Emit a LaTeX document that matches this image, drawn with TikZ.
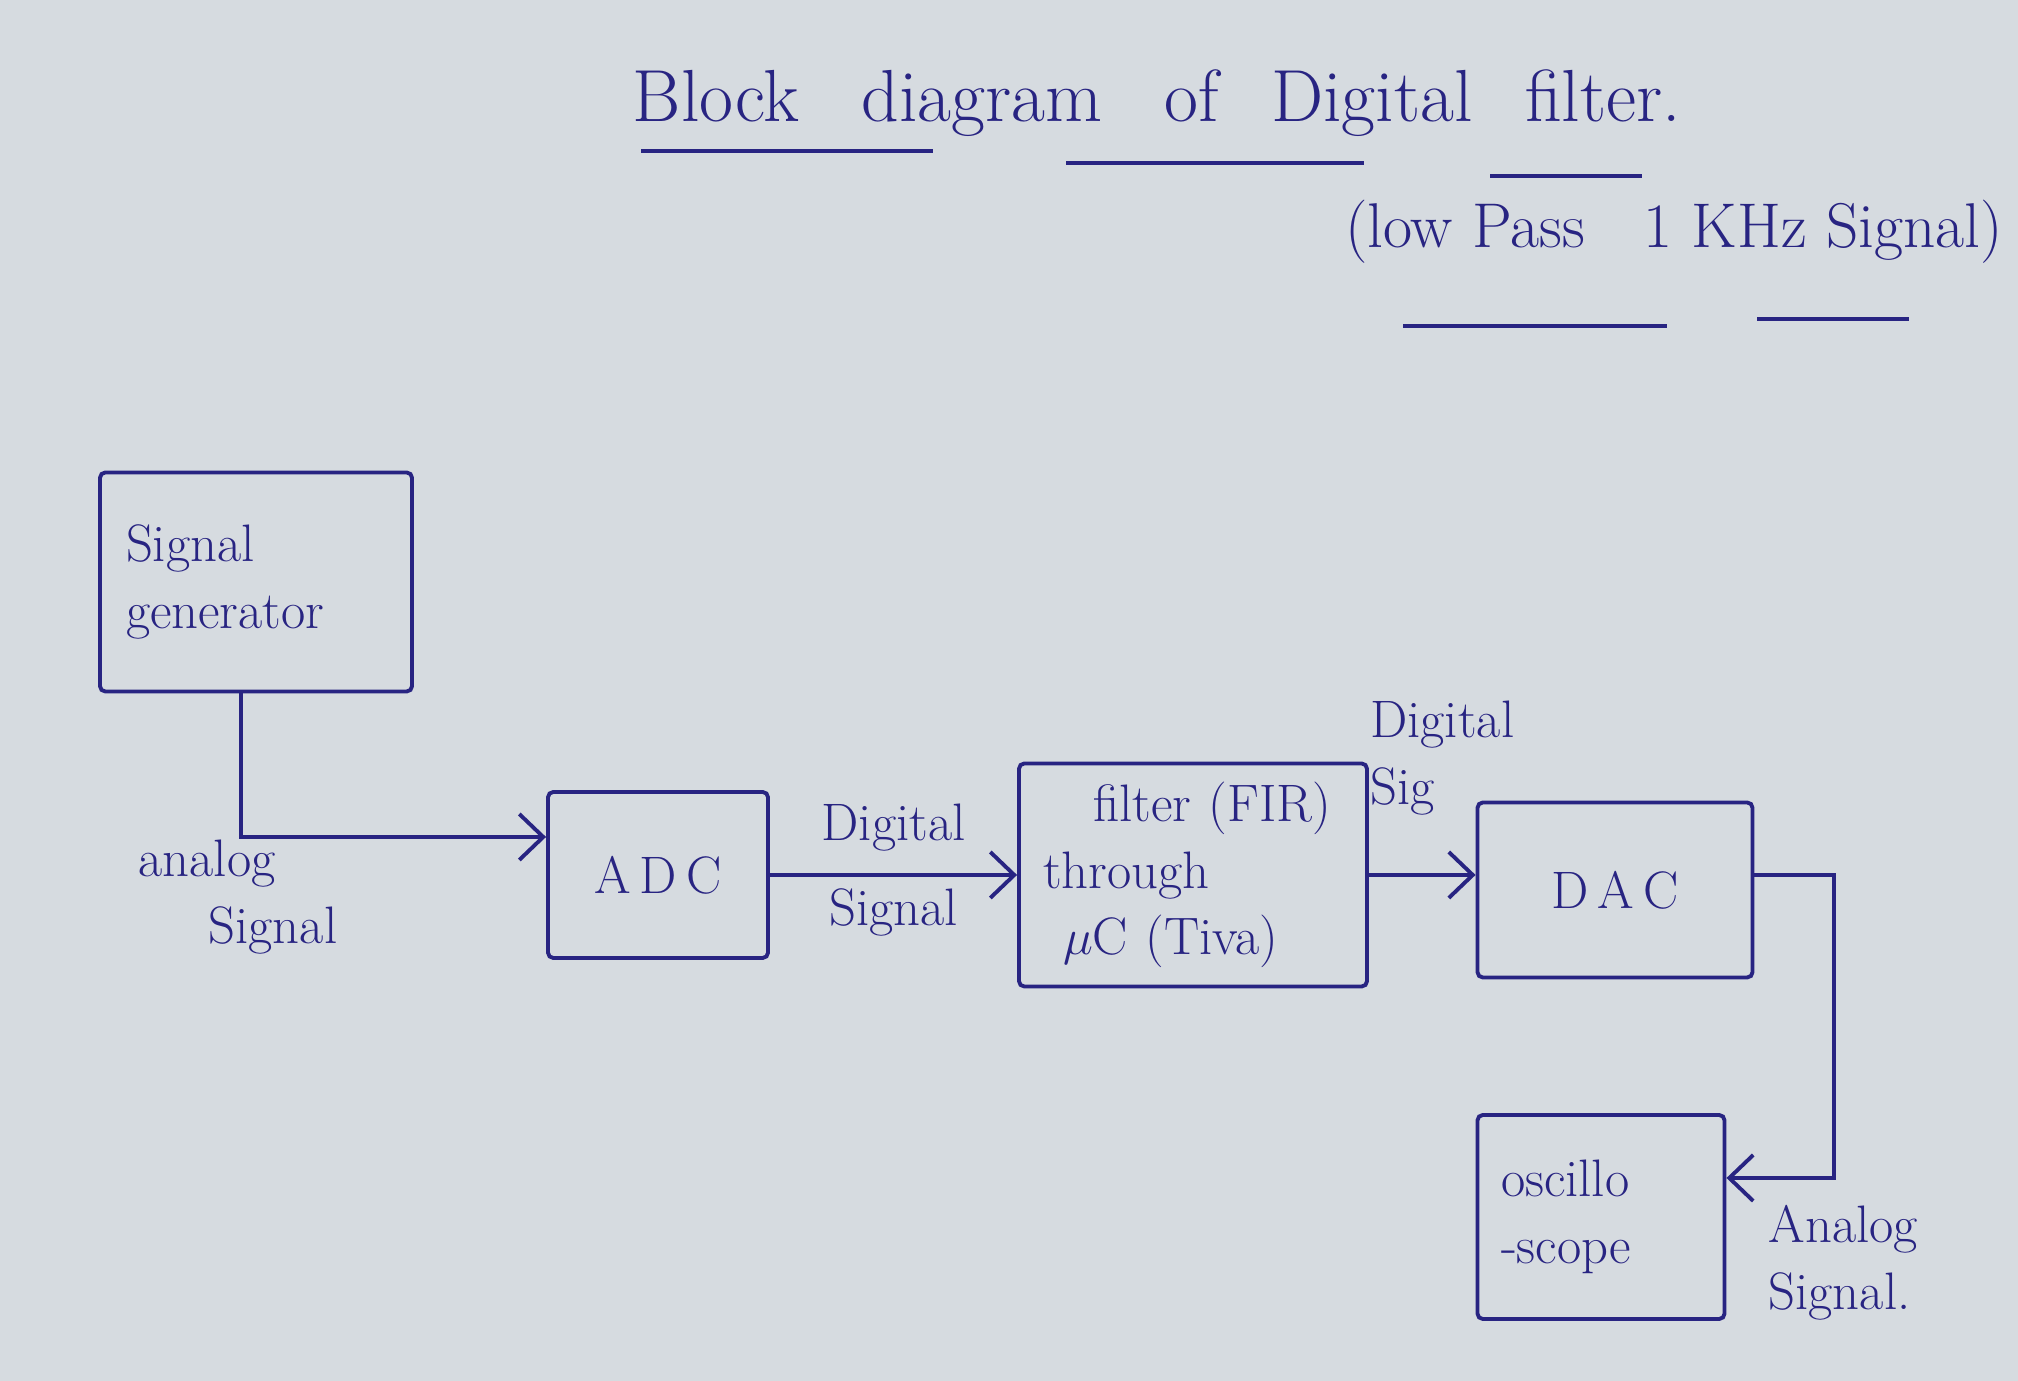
\documentclass[tikz,border=0pt]{standalone}
\usetikzlibrary{arrows.meta, positioning}

\definecolor{ink}{RGB}{40,36,130}
\definecolor{paper}{RGB}{214,219,224}

\begin{document}
\begin{tikzpicture}[
    ->,
    >={Straight Barb[length=2.4mm,width=4.6mm]},
    color=ink,
    line width=1.1pt,
    node distance=4cm,
    on grid,
    block/.style={draw, rounded corners=1.5pt, inner sep=4pt},
    every node/.style={font=\fontsize{15}{19}\selectfont},
]

    % paper
    \fill[paper, -] (0,0) rectangle (20.18,13.81);

    % heading
    \node[font=\fontsize{21}{25}\selectfont] (title) at (11.57,12.78)
        {Block\hspace{4mm} diagram\hspace{4mm} of\hspace{3mm} Digital\hspace{3mm} filter.};
    \node[font=\fontsize{18}{22}\selectfont] (subtitle) at (16.74,11.49)
        {(low Pass\hspace{4mm} 1 KHz Signal)};
    \draw[-] (6.41,12.30) -- (9.33,12.30);
    \draw[-] (10.66,12.18) -- (13.64,12.18);
    \draw[-] (14.90,12.05) -- (16.42,12.05);
    \draw[-] (14.03,10.55) -- (16.67,10.55);
    \draw[-] (17.57,10.62) -- (19.09,10.62);

    % blocks
    \node[block, minimum width=3.12cm, minimum height=2.19cm,
          text width=2.6cm, align=left]                       (gen) at (2.56,7.99) {Signal\\generator};
    \node[block, minimum width=2.20cm, minimum height=1.66cm] (adc) at (6.58,5.06) {A\,D\,C};
    \node[block, minimum width=3.48cm, minimum height=2.23cm,
          text width=3.0cm, align=left, right=5.35 of adc]     (fir) {\hspace{5mm}filter (FIR)\\through\\\hspace{2mm}$\mu$C (Tiva)};
    \node[block, minimum width=2.75cm, minimum height=1.75cm,
          right=4.22 of fir, yshift=-1.5mm]                   (dac) {D\,A\,C};
    \node[block, minimum width=2.47cm, minimum height=2.04cm,
          text width=2.0cm, align=left,
          below=3.27 of dac, xshift=-1.4mm]                   (osc) {oscillo\\-scope};

    \coordinate (bend) at (18.34,2.03);

    % signal path
    \path
        ([xshift=-1.5mm]gen.south) edge [to path={|- (\tikztotarget)}]
                                        ([yshift=3.8mm]adc.west)
        (adc) edge node [above=1mm] {Digital}
                   node [below]     {Signal}       (fir)
        (fir) edge node [above=4.6mm, xshift=2mm, align=left] {Digital\\Sig}
                                                   (fir.east -| dac.west)
    ;
    \draw (fir.east -| dac.east) -| (bend) -- (bend -| osc.east);

    % connector labels
    \node[align=left, anchor=west] (analog) at (1.25,4.84) {analog\\\hspace{7mm}Signal};
    \node[align=left, anchor=west] (scopein) at (17.55,1.18) {Analog\\Signal.};
\end{tikzpicture}
\end{document}
